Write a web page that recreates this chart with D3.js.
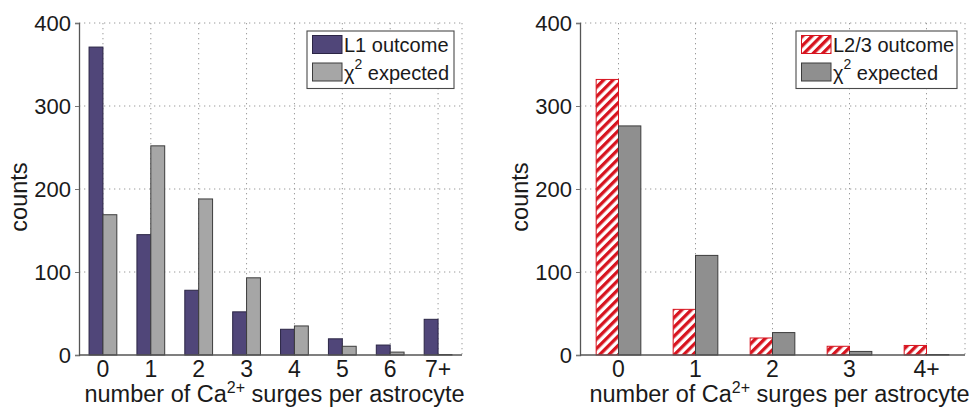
<!DOCTYPE html>
<html>
<head>
<meta charset="utf-8">
<script src="https://cdn.jsdelivr.net/npm/d3@7"></script>
<style>
  html, body { margin: 0; padding: 0; background: #fff; }
  svg { display: block; font-family: "Liberation Sans", Arial, Helvetica, sans-serif; }
</style>
</head>
<body>
<svg id="chart" width="972" height="408"></svg>
<script>
// Layer 1: surges per astrocyte, observed vs. chi-square expected
const l1Categories = ["0", "1", "2", "3", "4", "5", "6", "7+"];
const l1Outcome    = [371, 145, 78, 52, 31, 19.5, 12, 43];
const l1Expected   = [169, 252, 188, 93, 35, 10.5, 3.5, 0.6];

// Layer 2/3: surges per astrocyte, observed vs. chi-square expected
const l23Categories = ["0", "1", "2", "3", "4+"];
const l23Outcome    = [332, 55, 20.5, 10.5, 11.5];
const l23Expected   = [276, 120, 27, 4.3, 0.6];

const yTicks = [0, 100, 200, 300, 400];

const svg = d3.select("#chart");
const defs = svg.append("defs");

// diagonal red hatching for the L2/3 bars
const hatch = defs.append("pattern")
  .attr("id", "redHatch")
  .attr("patternUnits", "userSpaceOnUse")
  .attr("width", 6.6).attr("height", 6.6)
  .attr("patternTransform", "rotate(45)");
hatch.append("rect").attr("width", 6.6).attr("height", 6.6).attr("fill", "#fff");
hatch.append("rect").attr("width", 3.3).attr("height", 6.6).attr("fill", "#d7141f");

function drawPanel(opt) {
  const g = svg.append("g");
  const x = d3.scaleBand()
    .domain(opt.categories)
    .range([opt.left, opt.right])
    .paddingInner(0.42)
    .paddingOuter(0.21);
  const xs = d3.scaleBand().domain(["obs", "exp"]).range([0, x.bandwidth()]).padding(0);
  const y = d3.scaleLinear().domain([0, 400]).range([opt.bottom, opt.top]);

  // dotted grid
  const grid = g.append("g")
    .attr("stroke", "#9a9a9a").attr("stroke-width", 1)
    .attr("stroke-dasharray", "1.3,3.7");
  yTicks.filter(v => v > 0).forEach(v => {
    grid.append("line")
      .attr("x1", opt.left).attr("x2", opt.right)
      .attr("y1", y(v)).attr("y2", y(v));
  });
  const xGridPos = opt.categories.map(c => x(c) + x.bandwidth() / 2).concat([opt.right]);
  xGridPos.forEach(px => {
    grid.append("line")
      .attr("x1", px).attr("x2", px)
      .attr("y1", opt.top).attr("y2", opt.bottom);
  });

  // bars
  const rows = opt.categories.map((c, i) => ({ c, obs: opt.outcome[i], exp: opt.expected[i] }));
  g.append("g").selectAll("rect.obs").data(rows).join("rect")
    .attr("class", "obs")
    .attr("x", d => x(d.c) + xs("obs"))
    .attr("width", xs.bandwidth())
    .attr("y", d => y(d.obs))
    .attr("height", d => y(0) - y(d.obs))
    .attr("fill", opt.obsFill)
    .attr("stroke", opt.obsStroke).attr("stroke-width", 1);
  g.append("g").selectAll("rect.exp").data(rows).join("rect")
    .attr("class", "exp")
    .attr("x", d => x(d.c) + xs("exp"))
    .attr("width", xs.bandwidth())
    .attr("y", d => y(d.exp))
    .attr("height", d => y(0) - y(d.exp))
    .attr("fill", opt.expFill)
    .attr("stroke", "#3c3c3c").attr("stroke-width", 1);

  // axes
  const yAxis = d3.axisLeft(y).tickValues(yTicks).tickSize(4).tickPadding(4);
  const ya = g.append("g").attr("transform", `translate(${opt.left},0)`).call(yAxis);
  ya.select(".domain").attr("stroke", "#555").attr("stroke-width", 1.3);
  ya.selectAll(".tick line").attr("stroke", "#777");
  ya.selectAll(".tick text").attr("font-size", 22).attr("fill", "#1a1a1a")
    .attr("font-family", "Liberation Sans, Arial, sans-serif");

  const xAxis = d3.axisBottom(x).tickSize(0).tickPadding(5);
  const xa = g.append("g").attr("transform", `translate(0,${opt.bottom})`).call(xAxis);
  xa.select(".domain").attr("stroke", "#555").attr("stroke-width", 1.3);
  xa.selectAll(".tick text").attr("font-size", 23).attr("fill", "#1a1a1a")
    .attr("font-family", "Liberation Sans, Arial, sans-serif")
    .attr("dy", "0.72em");
  // axis line spans the full plot width
  xa.select(".domain").attr("d", `M${opt.left},0H${opt.right}`);

  // axis titles
  const xl = g.append("text")
    .attr("x", (opt.left + opt.right) / 2 + opt.xLabelShift)
    .attr("y", 402)
    .attr("text-anchor", "middle")
    .attr("font-size", 23.5).attr("fill", "#1a1a1a");
  xl.append("tspan").text("number of Ca");
  xl.append("tspan").attr("font-size", 16).attr("dy", -9).text("2+");
  xl.append("tspan").attr("dy", 9).text(" surges per astrocyte");

  g.append("text")
    .attr("transform", `translate(${opt.yLabelX},${(opt.top + opt.bottom) / 2 + 8}) rotate(-90)`)
    .attr("text-anchor", "middle")
    .attr("font-size", 23.5).attr("fill", "#1a1a1a")
    .text("counts");

  // legend
  const lg = g.append("g").attr("transform", `translate(${opt.legendX},31)`);
  lg.append("rect")
    .attr("width", opt.legendW).attr("height", 57.5)
    .attr("fill", "#fff").attr("stroke", "#4a4a4a").attr("stroke-width", 1.1);
  lg.append("rect").attr("x", 5.5).attr("y", 4.5).attr("width", 29.5).attr("height", 18)
    .attr("fill", opt.obsFill).attr("stroke", opt.obsStroke).attr("stroke-width", 1);
  lg.append("rect").attr("x", 5.5).attr("y", 32).attr("width", 29.5).attr("height", 18)
    .attr("fill", opt.expFill).attr("stroke", "#3c3c3c").attr("stroke-width", 1);
  lg.append("text").attr("x", 37).attr("y", 21).attr("font-size", 20).attr("fill", "#1a1a1a")
    .text(opt.obsLabel);
  const t2 = lg.append("text").attr("x", 37).attr("y", 49).attr("font-size", 20).attr("fill", "#1a1a1a");
  t2.append("tspan").text("χ");
  t2.append("tspan").attr("font-size", 14).attr("dy", -11).text("2");
  t2.append("tspan").attr("dy", 11).text(" expected");
}

drawPanel({
  categories: l1Categories, outcome: l1Outcome, expected: l1Expected,
  left: 79, right: 462, top: 23, bottom: 355,
  obsFill: "#504679", obsStroke: "#2b2545", expFill: "#a6a6a6",
  obsLabel: "L1 outcome", legendX: 307, legendW: 147, yLabelX: 27, xLabelShift: 4
});

drawPanel({
  categories: l23Categories, outcome: l23Outcome, expected: l23Expected,
  left: 580, right: 965, top: 23, bottom: 355,
  obsFill: "url(#redHatch)", obsStroke: "#d7141f", expFill: "#8f8f8f",
  obsLabel: "L2/3 outcome", legendX: 796, legendW: 161, yLabelX: 528, xLabelShift: 7
});
</script>
</body>
</html>
